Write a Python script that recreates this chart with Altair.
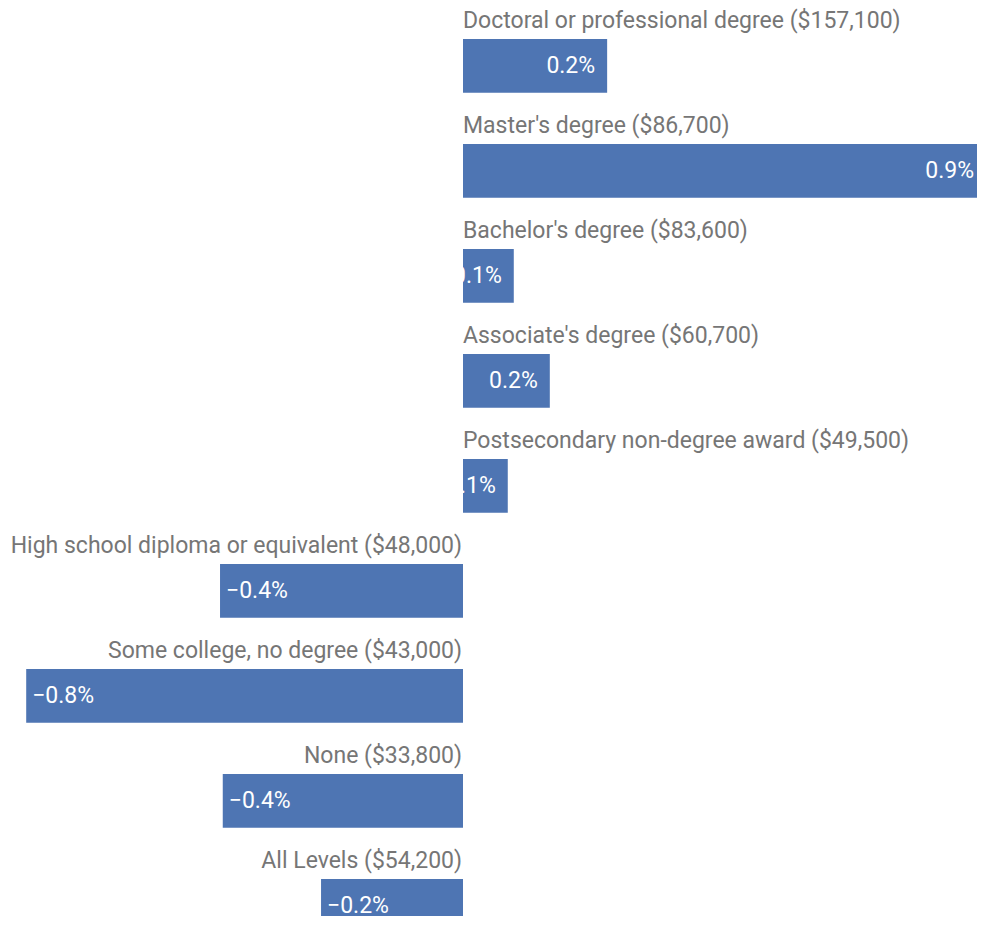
import altair as alt
import pandas as pd

categories = [
    "Doctoral or professional degree ($157,100)",
    "Master's degree ($86,700)",
    "Bachelor's degree ($83,600)",
    "Associate's degree ($60,700)",
    "Postsecondary non-degree award ($49,500)",
    "High school diploma or equivalent ($48,000)",
    "Some college, no degree ($43,000)",
    "None ($33,800)",
    "All Levels ($54,200)",
]
values = [0.264, 0.973, 0.093, 0.159, 0.082, -0.445, -0.800, -0.440, -0.260]
value_labels = ["0.2%", "0.9%", "0.1%", "0.2%", "0.1%", "−0.4%", "−0.8%", "−0.4%", "−0.2%"]

df = pd.DataFrame({"category": categories, "value": values, "label": value_labels})
df["zero"] = 0.0

BAR = "#4e75b3"
GREY = "#767676"
H = 908
PX_PER_UNIT = 546
LEFT_W = 455
RIGHT_W = 514

yenc = alt.Y(
    "category:N",
    sort=categories,
    scale=alt.Scale(domain=categories, paddingInner=0.487, paddingOuter=0,
                    range=[31, 31 + 105.0 * (len(categories) - 0.487)]),
    axis=None,
)

x_max = RIGHT_W / PX_PER_UNIT
label_cap = (RIGHT_W + 9) / PX_PER_UNIT


def panel(positive, domain, width):
    flt = alt.datum.value >= 0 if positive else alt.datum.value < 0
    base = alt.Chart(df).transform_filter(flt)
    xs = alt.Scale(domain=domain, nice=False, zero=True)
    bars = base.mark_bar(color=BAR, clip=True).encode(
        x=alt.X("value:Q", scale=xs, axis=None), y=yenc
    )
    vals = base.transform_calculate(
        tx=f"min(datum.value, {label_cap})"
    ).mark_text(
        color="white",
        fontSize=23,
        baseline="middle",
        align="right" if positive else "left",
        dx=-12 if positive else 6,
    ).encode(x=alt.X("tx:Q", scale=xs, axis=None), y=yenc, text="label:N")
    cats = base.mark_text(
        color=GREY,
        fontSize=23,
        baseline="middle",
        align="left" if positive else "right",
        dx=0 if positive else -1,
        dy=-45,
    ).encode(x=alt.X("zero:Q", scale=xs, axis=None), y=yenc, text="category:N")
    return alt.layer(bars, vals, cats).properties(width=width, height=H)


left = panel(False, [-LEFT_W / PX_PER_UNIT, 0], LEFT_W)
right = panel(True, [0, x_max], RIGHT_W)

chart = (
    alt.hconcat(left, right, spacing=0, bounds="flush")
    .properties(padding=0)
    .configure(font="Roboto")
    .configure_view(stroke="transparent", strokeWidth=0)
)

chart.save("out.html", embed_options={"renderer": "svg", "actions": False})
